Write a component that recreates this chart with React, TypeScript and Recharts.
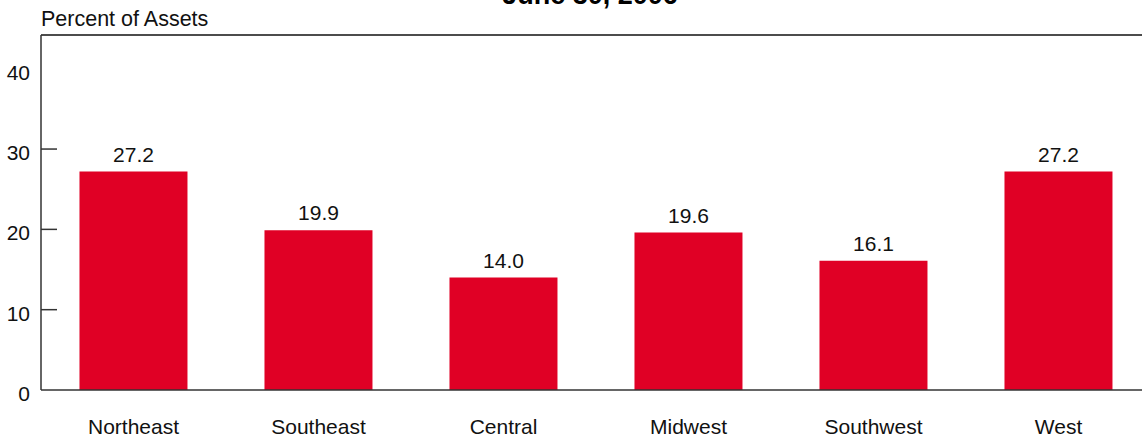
import { Bar, BarChart, LabelList, ReferenceLine, XAxis, YAxis } from "recharts";

const regions = ["Northeast", "Southeast", "Central", "Midwest", "Southwest", "West"];
const percentOfAssets = [27.2, 19.9, 14.0, 19.6, 16.1, 27.2];
const yTicks = [0, 10, 20, 30, 40];

const data = regions.map((region, i) => ({ region, value: percentOfAssets[i] }));

const FONT = "Liberation Sans, Arial, Helvetica, sans-serif";
const Y_MAX = 44.2;

function YTick(props: any) {
  const { x, y, payload } = props;
  const v = payload.value;
  return (
    <g>
      {v !== 0 && v !== 40 && <line x1={41} x2={57} y1={y} y2={y} stroke="#333" strokeWidth={1.5} />}
      <text x={x - 3} y={y + 11} textAnchor="end" fontSize={21} fill="#111" fontFamily={FONT}>
        {v}
      </text>
    </g>
  );
}

function XTick(props: any) {
  const { x, payload } = props;
  return (
    <text x={x} y={434} textAnchor="middle" fontSize={21} fill="#111" fontFamily={FONT}>
      {payload.value}
    </text>
  );
}

export default function App() {
  return (
    <div style={{ position: "fixed", left: 0, top: 0, width: 1142, height: 438, overflow: "hidden", background: "#fff" }}>
      <BarChart
        width={1160}
        height={438}
        data={data}
        margin={{ top: 35, right: 9, left: 0, bottom: 0 }}
        barCategoryGap="20.8%"
      >
        <XAxis
          dataKey="region"
          height={48}
          tickLine={false}
          axisLine={{ stroke: "#333", strokeWidth: 1.5 }}
          tick={<XTick />}
          interval={0}
        />
        <YAxis
          width={41}
          domain={[0, Y_MAX]}
          ticks={yTicks}
          tickLine={false}
          axisLine={{ stroke: "#333", strokeWidth: 1.5 }}
          tick={<YTick />}
          allowDataOverflow
        />
        <ReferenceLine y={Y_MAX} stroke="#111" strokeWidth={1.5} />
        <Bar dataKey="value" fill="#E00025" isAnimationActive={false}>
          <LabelList
            dataKey="value"
            position="top"
            offset={10}
            formatter={(v: any) => Number(v).toFixed(1)}
            style={{ fill: "#111", fontSize: 21, fontFamily: FONT }}
          />
        </Bar>
      </BarChart>
      <svg width={1142} height={40} style={{ position: "absolute", left: 0, top: 0 }}>
        <text x={590} y={4} textAnchor="middle" fontSize={27} fontWeight="bold" fill="#000" fontFamily={FONT}>
          June 30, 2006
        </text>
        <text x={41} y={26} fontSize={21.5} fill="#111" fontFamily={FONT}>
          Percent of Assets
        </text>
      </svg>
    </div>
  );
}
